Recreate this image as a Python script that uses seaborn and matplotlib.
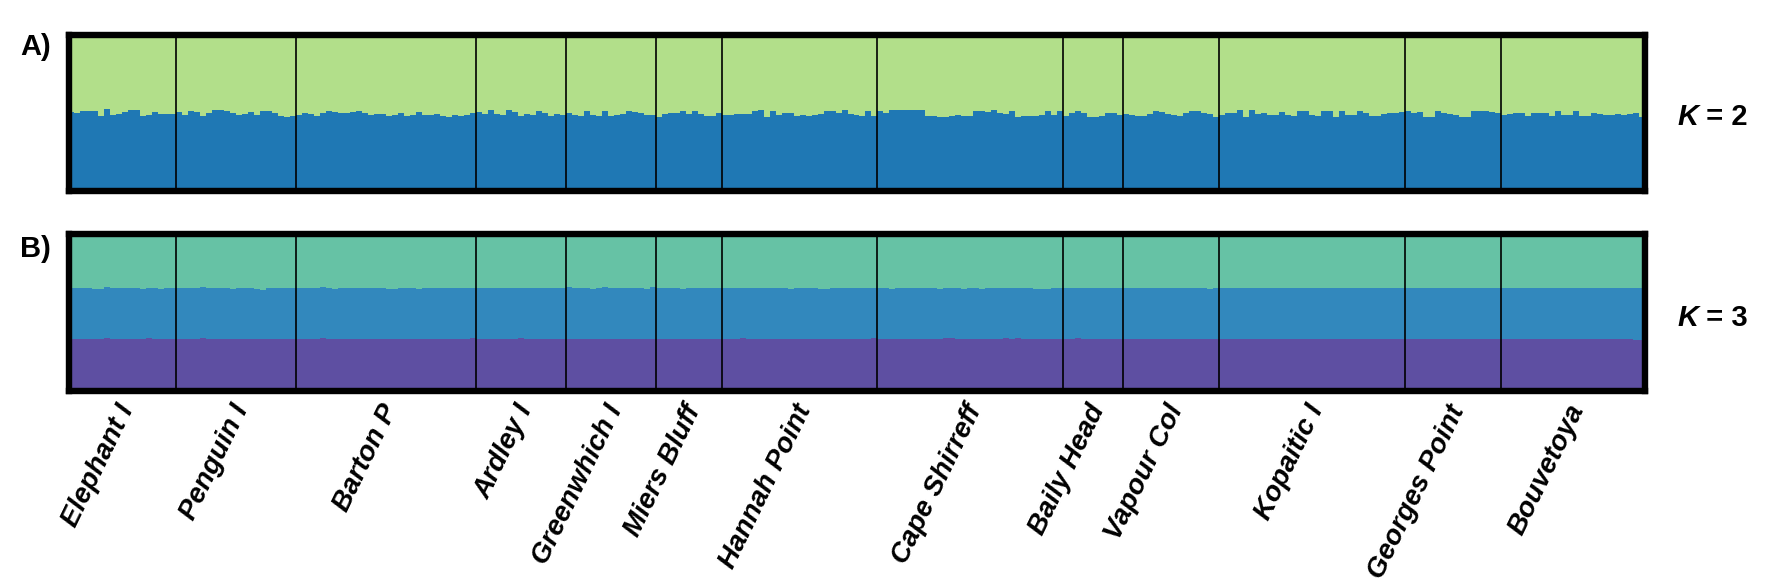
import matplotlib
matplotlib.use("Agg")
import matplotlib.pyplot as plt
import seaborn as sns
import pandas as pd
import numpy as np

# ---------------- data ----------------
populations = ["Elephant I", "Penguin I", "Barton P", "Ardley I", "Greenwhich I",
               "Miers Bluff", "Hannah Point", "Cape Shirreff", "Baily Head",
               "Vapour Col", "Kopaitic I", "Georges Point", "Bouvetoya"]

# K = 2 : membership in the (bottom) blue cluster, one list per population
k2_blue = [
    [0.505, 0.498, 0.512, 0.514, 0.513, 0.478, 0.523, 0.488, 0.493, 0.505, 0.521, 0.520, 0.479, 0.486, 0.507, 0.495, 0.494, 0.493],
    [0.507, 0.490, 0.514, 0.509, 0.481, 0.499, 0.522, 0.517, 0.512, 0.497, 0.487, 0.493, 0.509, 0.489, 0.515, 0.515, 0.497, 0.480, 0.477, 0.479],
    [0.490, 0.500, 0.495, 0.480, 0.497, 0.512, 0.508, 0.500, 0.503, 0.507, 0.513, 0.500, 0.485, 0.495, 0.493, 0.480, 0.484, 0.499, 0.478, 0.490,
     0.506, 0.486, 0.484, 0.496, 0.481, 0.476, 0.490, 0.478, 0.488, 0.499],
    [0.504, 0.492, 0.518, 0.492, 0.488, 0.517, 0.509, 0.483, 0.496, 0.488, 0.515, 0.497, 0.482, 0.493, 0.484],
    [0.499, 0.484, 0.481, 0.512, 0.490, 0.482, 0.513, 0.482, 0.490, 0.494, 0.514, 0.508, 0.500, 0.488, 0.490],
    [0.477, 0.495, 0.501, 0.498, 0.512, 0.494, 0.514, 0.492, 0.483, 0.480, 0.500],
    [0.484, 0.486, 0.496, 0.492, 0.493, 0.513, 0.518, 0.475, 0.513, 0.486, 0.497, 0.497, 0.483, 0.487, 0.481, 0.489, 0.495, 0.510, 0.516, 0.502,
     0.518, 0.496, 0.488, 0.480, 0.511, 0.478],
    [0.515, 0.500, 0.518, 0.520, 0.520, 0.521, 0.521, 0.521, 0.478, 0.478, 0.476, 0.476, 0.479, 0.490, 0.478, 0.480, 0.510, 0.510, 0.509, 0.517,
     0.503, 0.493, 0.514, 0.476, 0.482, 0.482, 0.482, 0.484, 0.512, 0.484, 0.514],
    [0.483, 0.498, 0.512, 0.497, 0.477, 0.477, 0.479, 0.500, 0.502, 0.486],
    [0.495, 0.484, 0.481, 0.478, 0.496, 0.513, 0.505, 0.491, 0.486, 0.483, 0.500, 0.510, 0.510, 0.503, 0.491, 0.476],
    [0.486, 0.498, 0.499, 0.520, 0.476, 0.520, 0.496, 0.499, 0.484, 0.486, 0.509, 0.486, 0.483, 0.510, 0.511, 0.484, 0.482, 0.510, 0.510, 0.476,
     0.514, 0.490, 0.484, 0.510, 0.500, 0.478, 0.479, 0.495, 0.500, 0.498, 0.506],
    [0.512, 0.498, 0.505, 0.475, 0.475, 0.511, 0.499, 0.492, 0.485, 0.476, 0.476, 0.512, 0.514, 0.514, 0.505, 0.500],
    [0.488, 0.496, 0.497, 0.497, 0.478, 0.500, 0.502, 0.501, 0.479, 0.512, 0.489, 0.488, 0.511, 0.481, 0.480, 0.497, 0.492, 0.486, 0.488, 0.496,
     0.489, 0.491, 0.502, 0.476],
]

# K = 3 : membership in the bottom (purple) cluster
k3_purple = [
    [0.330, 0.331, 0.330, 0.332, 0.331, 0.331, 0.336, 0.334, 0.333, 0.330, 0.330, 0.331, 0.332, 0.336, 0.332, 0.330, 0.331, 0.331],
    [0.331, 0.330, 0.331, 0.333, 0.336, 0.331, 0.331, 0.330, 0.332, 0.330, 0.331, 0.333, 0.334, 0.331, 0.330, 0.331, 0.332, 0.330, 0.331, 0.332],
    [0.331, 0.330, 0.332, 0.331, 0.337, 0.331, 0.330, 0.331, 0.332, 0.331, 0.330, 0.330, 0.331, 0.333, 0.332, 0.331, 0.330, 0.332, 0.331, 0.330,
     0.331, 0.333, 0.331, 0.330, 0.331, 0.332, 0.330, 0.331, 0.332, 0.336],
    [0.331, 0.332, 0.330, 0.331, 0.333, 0.331, 0.330, 0.336, 0.331, 0.330, 0.331, 0.332, 0.331, 0.330, 0.331],
    [0.330, 0.331, 0.332, 0.331, 0.330, 0.330, 0.331, 0.330, 0.332, 0.331, 0.330, 0.331, 0.333, 0.331, 0.330],
    [0.331, 0.330, 0.333, 0.331, 0.330, 0.331, 0.330, 0.332, 0.330, 0.331, 0.332],
    [0.331, 0.330, 0.331, 0.340, 0.331, 0.330, 0.331, 0.332, 0.330, 0.331, 0.330, 0.331, 0.332, 0.331, 0.330, 0.331, 0.330, 0.331, 0.332, 0.331,
     0.330, 0.330, 0.331, 0.332, 0.334, 0.336],
    [0.330, 0.331, 0.330, 0.330, 0.331, 0.330, 0.332, 0.331, 0.330, 0.331, 0.331, 0.338, 0.336, 0.331, 0.330, 0.331, 0.332, 0.331, 0.330, 0.333,
     0.331, 0.338, 0.334, 0.336, 0.332, 0.330, 0.331, 0.332, 0.331, 0.330, 0.331],
    [0.331, 0.330, 0.336, 0.331, 0.330, 0.331, 0.332, 0.331, 0.330, 0.331],
    [0.330, 0.331, 0.334, 0.331, 0.330, 0.331, 0.330, 0.332, 0.331, 0.330, 0.330, 0.331, 0.333, 0.331, 0.330, 0.331],
    [0.331, 0.330, 0.331, 0.332, 0.331, 0.333, 0.331, 0.330, 0.331, 0.332, 0.334, 0.331, 0.330, 0.331, 0.332, 0.331, 0.330, 0.331, 0.333, 0.331,
     0.330, 0.332, 0.331, 0.330, 0.331, 0.332, 0.331, 0.330, 0.331, 0.333, 0.331],
    [0.331, 0.332, 0.330, 0.331, 0.333, 0.331, 0.330, 0.331, 0.334, 0.331, 0.330, 0.331, 0.332, 0.331, 0.330, 0.331],
    [0.330, 0.331, 0.330, 0.330, 0.332, 0.331, 0.330, 0.331, 0.333, 0.331, 0.330, 0.331, 0.332, 0.331, 0.330, 0.331, 0.330, 0.331, 0.330, 0.331,
     0.330, 0.329, 0.328, 0.328],
]

# K = 3 : membership in the middle (blue) cluster
k3_blue = [
    [0.327, 0.325, 0.328, 0.326, 0.320, 0.320, 0.325, 0.321, 0.326, 0.325, 0.326, 0.324, 0.317, 0.318, 0.326, 0.322, 0.324, 0.325],
    [0.327, 0.326, 0.327, 0.325, 0.324, 0.326, 0.323, 0.326, 0.324, 0.322, 0.326, 0.325, 0.323, 0.320, 0.316, 0.326, 0.324, 0.327, 0.326, 0.325],
    [0.328, 0.326, 0.327, 0.324, 0.326, 0.326, 0.320, 0.326, 0.325, 0.326, 0.327, 0.326, 0.323, 0.324, 0.325, 0.319, 0.322, 0.325, 0.326, 0.326,
     0.320, 0.324, 0.326, 0.324, 0.326, 0.322, 0.326, 0.325, 0.327, 0.323],
    [0.326, 0.324, 0.327, 0.326, 0.320, 0.326, 0.327, 0.321, 0.325, 0.326, 0.324, 0.326, 0.325, 0.327, 0.322],
    [0.330, 0.328, 0.326, 0.323, 0.320, 0.326, 0.333, 0.326, 0.323, 0.326, 0.326, 0.323, 0.325, 0.321, 0.330],
    [0.326, 0.327, 0.324, 0.326, 0.321, 0.325, 0.327, 0.325, 0.326, 0.323, 0.326],
    [0.328, 0.327, 0.328, 0.319, 0.326, 0.327, 0.326, 0.325, 0.326, 0.326, 0.325, 0.321, 0.326, 0.327, 0.326, 0.327, 0.320, 0.321, 0.326, 0.327,
     0.326, 0.325, 0.324, 0.327, 0.322, 0.318],
    [0.326, 0.324, 0.321, 0.326, 0.323, 0.324, 0.322, 0.323, 0.326, 0.322, 0.320, 0.315, 0.321, 0.322, 0.322, 0.324, 0.322, 0.321, 0.323, 0.322,
     0.324, 0.318, 0.320, 0.320, 0.322, 0.325, 0.320, 0.318, 0.321, 0.323, 0.324],
    [0.324, 0.325, 0.320, 0.324, 0.326, 0.325, 0.325, 0.322, 0.327, 0.325],
    [0.328, 0.327, 0.324, 0.326, 0.327, 0.326, 0.328, 0.323, 0.325, 0.326, 0.327, 0.325, 0.321, 0.323, 0.320, 0.322],
    [0.327, 0.326, 0.327, 0.325, 0.327, 0.324, 0.327, 0.326, 0.326, 0.324, 0.322, 0.326, 0.328, 0.326, 0.323, 0.325, 0.327, 0.326, 0.324, 0.326,
     0.327, 0.326, 0.325, 0.326, 0.327, 0.323, 0.326, 0.327, 0.325, 0.324, 0.328],
    [0.326, 0.326, 0.328, 0.327, 0.324, 0.326, 0.327, 0.326, 0.320, 0.326, 0.327, 0.326, 0.324, 0.326, 0.327, 0.326],
    [0.326, 0.327, 0.326, 0.325, 0.324, 0.326, 0.327, 0.326, 0.322, 0.326, 0.327, 0.325, 0.324, 0.326, 0.327, 0.324, 0.326, 0.327, 0.326, 0.324,
     0.325, 0.326, 0.327, 0.326],
]

k2_colors = {"c2_green": "#b2df8a", "c1_blue": "#1f78b4"}
k3_colors = {"c3_teal": "#66c2a5", "c2_blue": "#3288bd", "c1_purple": "#5e4fa2"}

# ---------------- styling ----------------
sns.set_theme(style="white")
plt.rcParams['font.family'] = ['Liberation Sans', 'DejaVu Sans']
plt.rcParams['text.color'] = 'black'

W, H = 1773, 584
fig = plt.figure(figsize=(W / 100, H / 100), dpi=100)
fig.patch.set_facecolor("white")


def fig_box(x0, y0, x1, y1):
    return [x0 / W, 1 - y1 / H, (x1 - x0) / W, (y1 - y0) / H]


ax1 = fig.add_axes(fig_box(68.5, 35, 1644.5, 191))
ax2 = fig.add_axes(fig_box(68.5, 234, 1644.5, 391))

counts = [len(v) for v in k2_blue]
n = sum(counts)
ind = np.arange(n)
starts = np.concatenate([[0], np.cumsum(counts)[:-1]])

b2 = np.concatenate(k2_blue)
df2 = pd.DataFrame({
    "ind": np.tile(ind, 2),
    "q": np.concatenate([1 - b2, b2]),
    "cluster": ["c2_green"] * n + ["c1_blue"] * n,
})

p3 = np.concatenate(k3_purple)
m3 = np.concatenate(k3_blue)
df3 = pd.DataFrame({
    "ind": np.tile(ind, 3),
    "q": np.concatenate([1 - p3 - m3, m3, p3]),
    "cluster": ["c3_teal"] * n + ["c2_blue"] * n + ["c1_purple"] * n,
})

for ax, df, pal in ((ax1, df2, k2_colors), (ax2, df3, k3_colors)):
    sns.histplot(data=df, x="ind", weights="q", hue="cluster",
                 hue_order=list(pal.keys()), palette=pal,
                 multiple="stack", discrete=True, shrink=1,
                 alpha=1, linewidth=0, antialiased=False,
                 legend=False, ax=ax)
    ax.set_xlim(-0.5, n - 0.5)
    ax.set_ylim(0, 1)
    ax.set_xlabel("")
    ax.set_ylabel("")
    ax.set_xticks([])
    ax.set_yticks([])
    for b in starts[1:]:
        ax.axvline(b - 0.5, color="black", lw=1.2, zorder=5)
    for sp in ax.spines.values():
        sp.set_visible(True)
        sp.set_color("black")
        sp.set_linewidth(4.6)
        sp.set_zorder(6)

# population labels under the lower panel
for name, s, c in zip(populations, starts, counts):
    center = s + c / 2 - 0.5
    ax2.annotate(name, xy=(center, 0), xycoords=("data", "axes fraction"),
                 xytext=(4, -11), textcoords="offset points",
                 rotation=64, rotation_mode="anchor", ha="right", va="center",
                 fontsize=20, fontweight="bold", fontstyle="italic", color="black")

# panel letters
fig.text(20 / W, 1 - 47 / H, "A)", fontsize=21, fontweight="bold", va="center", ha="left", color="black")
fig.text(20 / W, 1 - 249 / H, "B)", fontsize=21, fontweight="bold", va="center", ha="left", color="black")

# K labels
for ycen, k in ((117, "2"), (318, "3")):
    t = fig.text(1677 / W, 1 - ycen / H, "K", fontsize=21, fontweight="bold",
                 fontstyle="italic", va="center", ha="left", color="black")
    ax1.annotate(" = " + k, xy=(1, 0.5), xycoords=t, va="center", ha="left",
                 fontsize=21, fontweight="bold", color="black", annotation_clip=False)

fig.savefig("out.png", dpi=100)
